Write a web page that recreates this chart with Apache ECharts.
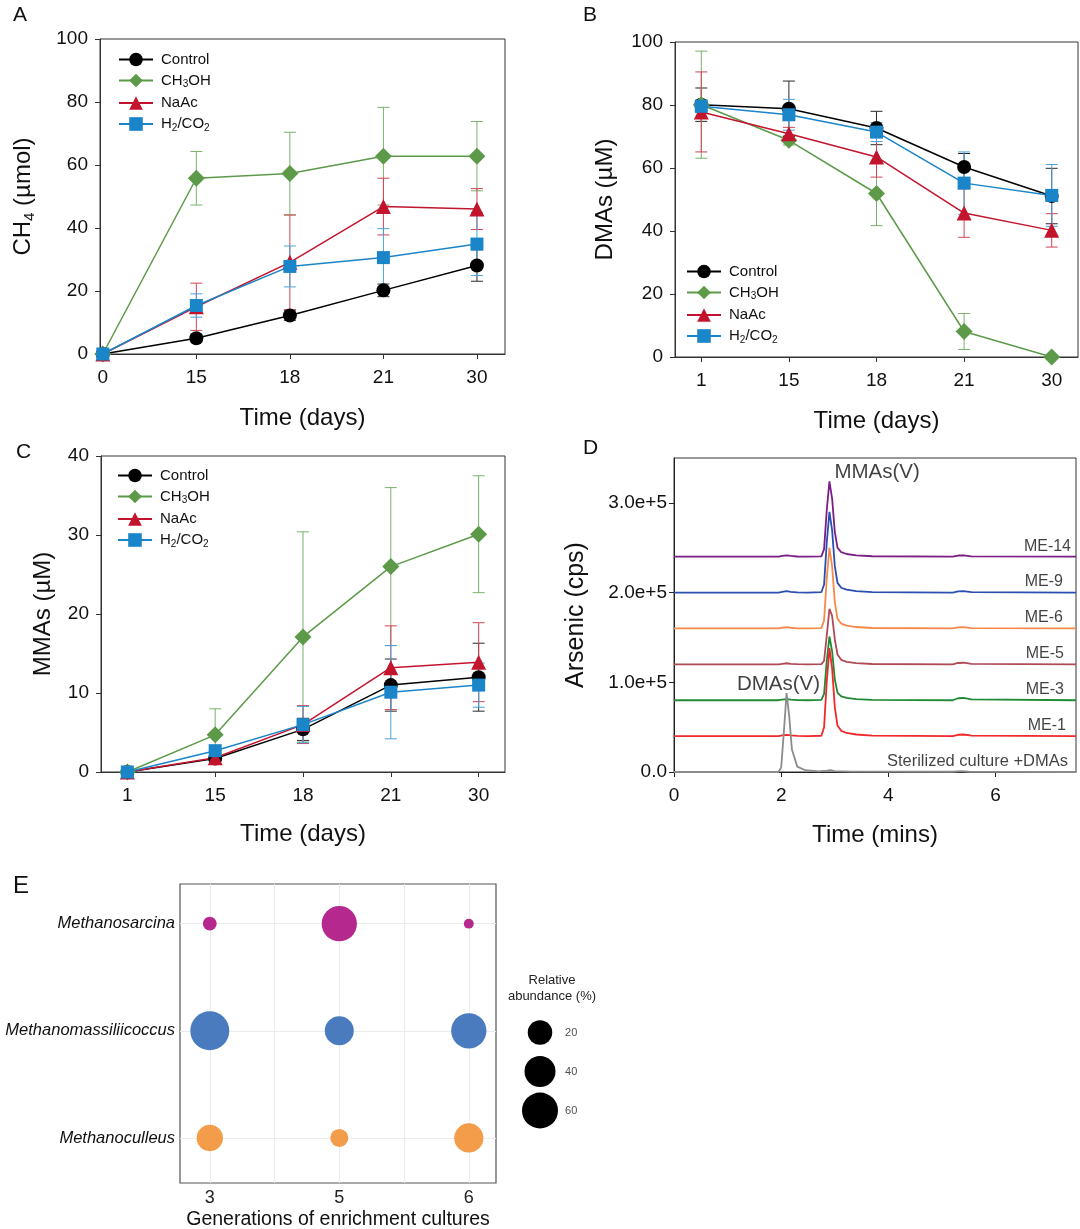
<!DOCTYPE html>
<html><head><meta charset="utf-8">
<script src="https://cdn.jsdelivr.net/npm/echarts@6/dist/echarts.min.js"></script>
<style>html,body{margin:0;padding:0;background:#fff}#c{width:1080px;height:1229px}</style>
</head><body><div id="c"></div>
<script>
const FONT = '"Liberation Sans", Arial, Helvetica, sans-serif';

// ---------- Panels A–C ----------
const treatNames = ['Control', 'CH3OH', 'NaAc', 'H2/CO2'];
const daysA = ['0', '15', '18', '21', '30'];
const daysBC = ['1', '15', '18', '21', '30'];

const ch4Control = [0, 5.0, 12.2, 20.2, 28.1];
const ch4ControlErr = [0.6, 1.2, 1.5, 2.0, 5.0];
const ch4Methanol = [0, 55.8, 57.3, 62.8, 62.8];
const ch4MethanolErr = [0.6, 8.5, 13.1, 15.5, 11.0];
const ch4NaAc = [0, 15.0, 29.1, 46.8, 46.0];
const ch4NaAcErr = [0.8, 7.5, 15.0, 9.0, 6.5];
const ch4H2 = [0, 15.4, 27.8, 30.6, 34.9];
const ch4H2Err = [0.6, 3.7, 6.5, 9.2, 10.0];

const dmaControl = [80.1, 78.8, 72.7, 60.3, 51.1];
const dmaControlErr = [5.3, 8.8, 5.3, 4.3, 8.8];
const dmaMethanol = [80.1, 68.8, 51.9, 8.1, 0];
const dmaMethanolErr = [17.0, 1.5, 10.2, 5.7, 0];
const dmaNaAc = [77.8, 70.9, 63.5, 45.7, 40.2];
const dmaNaAcErr = [12.7, 2.0, 6.4, 7.7, 5.3];
const dmaH2 = [79.6, 76.9, 71.4, 55.2, 51.3];
const dmaH2Err = [2.0, 4.9, 3.0, 9.9, 9.8];

const mmaControl = [0, 1.7, 5.4, 11.0, 12.0];
const mmaControlErr = [0.3, 0.4, 1.4, 3.3, 4.3];
const mmaMethanol = [0, 4.7, 17.1, 26.0, 30.1];
const mmaMethanolErr = [0.3, 3.3, 13.3, 10.0, 7.4];
const mmaNaAc = [0, 1.8, 6.0, 13.2, 13.9];
const mmaNaAcErr = [0.3, 0.4, 2.4, 5.3, 5.0];
const mmaH2 = [0, 2.7, 6.0, 10.1, 11.0];
const mmaH2Err = [0.3, 0.4, 2.3, 5.9, 2.8];

// ---------- Panel D (kcps) ----------
const chromTime = [0, 1.95, 2.02, 2.1, 2.18, 2.3, 2.5, 2.75, 2.8, 2.85, 2.9, 2.95, 3.0, 3.05, 3.12, 3.22, 3.4, 3.7, 5.2, 5.3, 5.4, 5.55, 7.5];
const me14 = [240, 240, 240.8, 241.5, 240.8, 240.2, 240, 240.3, 248.4, 292, 324, 304.7, 267.7, 250.1, 245, 243, 241.5, 240.5, 240, 241.3, 241.5, 240.4, 240];
const me9  = [200, 200, 200.8, 201.5, 200.8, 200.2, 200, 200.4, 209, 255.8, 290, 269.3, 229.7, 210.8, 205.4, 203.2, 201.6, 200.5, 200, 201.3, 201.5, 200.4, 200];
const me6  = [160, 160, 160.8, 161.5, 160.8, 160.2, 160, 160.4, 169, 215.8, 250, 229.3, 189.7, 170.8, 165.4, 163.2, 161.6, 160.5, 160, 161.3, 161.5, 160.4, 160];
const me5  = [120, 120, 120.6, 121.2, 120.6, 120.2, 120, 120.2, 124, 152, 182, 174, 148, 131, 125, 122.8, 121.3, 120.4, 120, 121.5, 121.8, 120.5, 120];
const me3  = [80, 80, 80.6, 81.2, 80.6, 80.2, 80, 80.3, 87.1, 124, 151, 134.7, 103.4, 88.5, 84.3, 82.6, 81.3, 80.4, 80, 82.2, 82.5, 81, 80];
const me1  = [40, 40, 40.8, 41.5, 40.8, 40.2, 40, 40.4, 49.8, 100.8, 138, 115.5, 72.3, 51.8, 45.9, 43.5, 41.8, 40.6, 40, 41.5, 41.8, 40.5, 40];
const sterileTime = [0, 1.95, 2.0, 2.05, 2.1, 2.15, 2.2, 2.3, 2.45, 2.7, 2.85, 2.92, 3.0, 3.3, 5.2, 5.35, 5.5, 7.5];
const sterile = [0, 0, 5, 45, 88, 62, 25, 6, 2, 0.8, 1.5, 2, 1, 0.5, 0.3, 1, 0.3, 0];
const traceNames = ['ME-14', 'ME-9', 'ME-6', 'ME-5', 'ME-3', 'ME-1', 'Sterilized culture +DMAs'];
const yTicksD = [0, 100, 200, 300];

// ---------- Panel E ----------
const generations = ['3', '5', '6'];
const genera = ['Methanoculleus', 'Methanomassiliicoccus', 'Methanosarcina'];
const culleusAbund = [25, 6.9, 34];
const massiliiAbund = [74, 33, 57];
const sarcinaAbund = [2, 57, 0.1];
const legendAbund = [20, 40, 60];

// ---------- styles ----------
const COL = { 'Control': '#000000', 'CH3OH': '#5c9a49', 'NaAc': '#c3142d', 'H2/CO2': '#1a85c8' };
const ERRCOL = { 'Control': '#2a2a2a', 'CH3OH': '#79b26a', 'NaAc': '#d04555', 'H2/CO2': '#4aa2dc' };
const SYM = { 'Control': ['circle', 14], 'CH3OH': ['diamond', 17], 'NaAc': ['triangle', 15], 'H2/CO2': ['rect', 13] };
const TRACECOL = ['#7a1e86', '#2a4fb0', '#f7894a', '#b04a55', '#1f8a35', '#f0282a', '#8c8c8c'];
const GENCOL = ['#f39c4a', '#4a7bbe', '#b5298f'];

function lineSeries(name, vals, gi) {
  return {
    type: 'line', name: name, xAxisIndex: gi, yAxisIndex: gi, z: 3,
    data: vals.map((v, i) => [i, v]),
    symbol: SYM[name][0], symbolSize: SYM[name][1],
    lineStyle: { color: COL[name], width: 1.5 },
    itemStyle: { color: COL[name] }
  };
}
function errSeries(name, vals, errs, gi) {
  const color = ERRCOL[name];
  return {
    type: 'custom', xAxisIndex: gi, yAxisIndex: gi, z: 1, silent: true,
    data: vals.map((v, i) => [i, v - errs[i], v + errs[i]]),
    encode: { x: 0, y: [1, 2] },
    renderItem: (params, api) => {
      const lo = api.coord([api.value(0), api.value(1)]);
      const hi = api.coord([api.value(0), api.value(2)]);
      const hw = 6, st = { stroke: color, lineWidth: 1 };
      return { type: 'group', children: [
        { type: 'line', shape: { x1: lo[0], y1: lo[1], x2: hi[0], y2: hi[1] }, style: st },
        { type: 'line', shape: { x1: hi[0] - hw, y1: hi[1], x2: hi[0] + hw, y2: hi[1] }, style: st },
        { type: 'line', shape: { x1: lo[0] - hw, y1: lo[1], x2: lo[0] + hw, y2: lo[1] }, style: st }
      ] };
    }
  };
}

const richMain = { fontSize: 15, lineHeight: 18, fontFamily: FONT, color: '#111' };
const richSub = { fontSize: 10, lineHeight: 10, verticalAlign: 'bottom', fontFamily: FONT, color: '#111' };
function legendFmt(name) {
  if (name === 'CH3OH') return '{n|CH}{s|3}{n|OH}';
  if (name === 'H2/CO2') return '{n|H}{s|2}{n|/CO}{s|2}';
  return '{n|' + name + '}';
}
function makeLegend(left, top) {
  return {
    data: treatNames, left: left, top: top, orient: 'vertical',
    itemWidth: 34, itemHeight: 17, itemGap: 6, padding: 0,
    formatter: legendFmt, selectedMode: false,
    textStyle: { rich: { n: richMain, s: richSub }, padding: [0, 0, 0, 3] }
  };
}

const axisTxt = { fontSize: 19, color: '#111', fontFamily: FONT };
const nameTxt = { fontSize: 24, color: '#111', fontFamily: FONT };
function catXAxis(gi, min, max, labels, gap) {
  return {
    type: 'value', gridIndex: gi, min: min, max: max,
    axisLine: { show: true, onZero: false, lineStyle: { color: '#333', width: 1 } },
    axisTick: { show: true, length: 5, customValues: [0, 1, 2, 3, 4], lineStyle: { color: '#333' } },
    axisLabel: Object.assign({ customValues: [0, 1, 2, 3, 4], margin: 14, formatter: v => labels[Math.round(v)] }, axisTxt),
    splitLine: { show: false },
    name: 'Time (days)', nameLocation: 'middle', nameGap: gap, nameTextStyle: nameTxt
  };
}
function valYAxis(gi, max, interval, nameRich, gap, rich) {
  return {
    type: 'value', gridIndex: gi, min: 0, max: max, interval: interval,
    axisLine: { show: true, onZero: false, lineStyle: { color: '#333', width: 1 } },
    axisTick: { show: true, length: 5, lineStyle: { color: '#333' } },
    axisLabel: Object.assign({ margin: 12 }, axisTxt),
    splitLine: { show: false },
    name: nameRich, nameLocation: 'middle', nameGap: gap,
    nameTextStyle: Object.assign({ rich: rich }, nameTxt)
  };
}
const gridBase = { show: true, borderColor: '#333', borderWidth: 1, backgroundColor: 'transparent', containLabel: false, outerBoundsMode: 'none' };

const nameRich = {
  n: { fontSize: 24, fontFamily: FONT, color: '#111', lineHeight: 27 },
  s: { fontSize: 15, fontFamily: FONT, color: '#111', lineHeight: 16, verticalAlign: 'bottom' }
};

const series = [];
const panels = [
  { gi: 0, data: [ch4Control, ch4Methanol, ch4NaAc, ch4H2], err: [ch4ControlErr, ch4MethanolErr, ch4NaAcErr, ch4H2Err] },
  { gi: 1, data: [dmaControl, dmaMethanol, dmaNaAc, dmaH2], err: [dmaControlErr, dmaMethanolErr, dmaNaAcErr, dmaH2Err] },
  { gi: 2, data: [mmaControl, mmaMethanol, mmaNaAc, mmaH2], err: [mmaControlErr, mmaMethanolErr, mmaNaAcErr, mmaH2Err] }
];
panels.forEach(p => {
  treatNames.forEach((n, k) => series.push(errSeries(n, p.data[k], p.err[k], p.gi)));
  treatNames.forEach((n, k) => series.push(lineSeries(n, p.data[k], p.gi)));
});

// Panel D traces
const traces = [me14, me9, me6, me5, me3, me1];
traces.forEach((tr, k) => series.push({
  type: 'line', name: traceNames[k], xAxisIndex: 3, yAxisIndex: 3, showSymbol: false, symbol: 'none',
  data: tr.map((v, i) => [chromTime[i], v]),
  lineStyle: { color: TRACECOL[k], width: 1.8 }, z: 3
}));
series.push({
  type: 'line', name: traceNames[6], xAxisIndex: 3, yAxisIndex: 3, showSymbol: false, symbol: 'none',
  data: sterile.map((v, i) => [sterileTime[i], v]),
  lineStyle: { color: TRACECOL[6], width: 1.8 }, z: 3
});
// trace labels
const allTraces = traces.concat([sterile]);
const labelOffsets = [-5, -13, -13, -12, -12, -10, -8];
series.push({
  type: 'scatter', xAxisIndex: 3, yAxisIndex: 3, symbolSize: 1, itemStyle: { color: 'transparent' }, silent: true, z: 5,
  data: allTraces.map((tr, k) => ({
    value: [7.5, tr[tr.length - 1], traceNames[k]],
    label: { show: true, position: 'top', align: 'right', distance: 2, offset: [labelOffsets[k], 0],
      formatter: p => p.value[2], fontSize: k === 6 ? 16.5 : 16, color: '#111', fontFamily: FONT }
  }))
});
// peak annotations
series.push({
  type: 'scatter', xAxisIndex: 3, yAxisIndex: 3, symbolSize: 1, itemStyle: { color: 'transparent' }, silent: true, z: 5,
  data: [[3.79, 333.7, 'MMAs(V)'], [1.95, 97.3, 'DMAs(V)']],
  label: { show: true, position: 'inside', formatter: p => p.value[2], fontSize: 20.5, color: '#111', fontFamily: FONT }
});

// Panel E
const bw = v => 8.8 + 3.51 * Math.sqrt(v);
const bsize = val => bw(val[2]);
[culleusAbund, massiliiAbund, sarcinaAbund].forEach((arr, gk) => series.push({
  type: 'scatter', name: genera[gk], xAxisIndex: 4, yAxisIndex: 4, z: 3,
  data: arr.map((v, i) => [i, gk, v]),
  symbol: 'circle', symbolSize: bsize, itemStyle: { color: GENCOL[gk], opacity: 1 }
}));
series.push({
  type: 'scatter', xAxisIndex: 5, yAxisIndex: 5, z: 3,
  data: legendAbund.map(v => [0.5, String(v), v]),
  symbol: 'circle', symbolSize: bsize, itemStyle: { color: '#000', opacity: 1 }
});
series.push({
  type: 'scatter', xAxisIndex: 5, yAxisIndex: 5, z: 3, symbolSize: 1, itemStyle: { color: 'transparent' },
  data: legendAbund.map(v => [0.91, String(v)]),
  label: { show: true, position: 'right', distance: 0, formatter: p => p.value[1], fontSize: 11, color: '#222', fontFamily: FONT }
});

const option = {
  animation: false,
  backgroundColor: '#fff',
  textStyle: { fontFamily: FONT },
  grid: [
    Object.assign({ left: 100, top: 39, width: 405, height: 315 }, gridBase),
    Object.assign({ left: 675, top: 42, width: 403, height: 315 }, gridBase),
    Object.assign({ left: 101, top: 456, width: 404, height: 316 }, gridBase),
    Object.assign({ left: 674, top: 458, width: 402, height: 314 }, gridBase),
    Object.assign({}, gridBase, { left: 180, top: 884, width: 316, height: 299, borderColor: '#555', borderWidth: 1.2 }),
    { left: 510, top: 1013, width: 60, height: 117, show: false, containLabel: false, outerBoundsMode: 'none' }
  ],
  legend: [makeLegend(118, 52), makeLegend(686, 264), makeLegend(117, 468)],
  xAxis: [
    catXAxis(0, -0.03, 4.3, daysA, 52),
    catXAxis(1, -0.3, 4.3, daysBC, 52),
    catXAxis(2, -0.3, 4.3, daysBC, 50),
    {
      type: 'value', gridIndex: 3, min: 0, max: 7.5,
      axisLine: { show: true, onZero: false, lineStyle: { color: '#222' } },
      axisTick: { show: true, length: 5, customValues: [0, 2, 4, 6], lineStyle: { color: '#222' } },
      axisLabel: Object.assign({ customValues: [0, 2, 4, 6], margin: 14 }, axisTxt),
      splitLine: { show: false },
      name: 'Time (mins)', nameLocation: 'middle', nameGap: 51, nameTextStyle: nameTxt
    },
    {
      type: 'value', gridIndex: 4, min: -0.23, max: 2.21,
      axisLine: { show: false },
      axisTick: { show: false, customValues: [0, 0.5, 1, 1.5, 2] },
      axisLabel: { customValues: [0, 1, 2], formatter: v => generations[Math.round(v)], fontSize: 18, color: '#222', margin: 6, fontFamily: FONT },
      splitLine: { show: true, lineStyle: { color: '#ebebeb', width: 1 } },
      name: 'Generations of enrichment cultures', nameLocation: 'middle', nameGap: 27,
      nameTextStyle: { fontSize: 19.5, color: '#111', fontFamily: FONT }
    },
    { type: 'value', gridIndex: 5, min: 0, max: 1, show: false }
  ],
  yAxis: [
    valYAxis(0, 100, 20, '{n|CH}{s|4}{n| (µmol)}', 63, nameRich),
    valYAxis(1, 100, 20, 'DMAs (µM)', 58, nameRich),
    valYAxis(2, 40, 10, 'MMAs (µM)', 46, nameRich),
    {
      type: 'value', gridIndex: 3, min: 0, max: 350,
      axisLine: { show: true, onZero: false, lineStyle: { color: '#222' } },
      axisTick: { show: true, length: 5, customValues: yTicksD, lineStyle: { color: '#222' } },
      axisLabel: Object.assign({ customValues: yTicksD, margin: 7,
        formatter: v => v === 0 ? '0.0' : (v / 100).toFixed(1) + 'e+5' }, axisTxt),
      splitLine: { show: false },
      name: 'Arsenic (cps)', nameLocation: 'middle', nameGap: 85,
      nameTextStyle: { fontSize: 25, color: '#111', fontFamily: FONT }
    },
    {
      type: 'value', gridIndex: 4, min: -0.42, max: 2.37,
      axisLine: { show: false },
      axisTick: { show: true, length: 3, customValues: [0, 1, 2], lineStyle: { color: '#444' } },
      axisLabel: { customValues: [0, 1, 2], formatter: v => genera[Math.round(v)], fontSize: 16.5, fontStyle: 'italic', color: '#111', margin: 5, fontFamily: FONT },
      splitLine: { show: true, lineStyle: { color: '#ebebeb', width: 1 } }
    },
    { type: 'category', gridIndex: 5, data: legendAbund.map(String), inverse: true, show: false }
  ],
  graphic: [
    { type: 'text', x: 13, y: 5, style: { text: 'A', font: '21px ' + FONT, fill: '#111' } },
    { type: 'text', x: 583, y: 5, style: { text: 'B', font: '21px ' + FONT, fill: '#111' } },
    { type: 'text', x: 16, y: 442, style: { text: 'C', font: '21px ' + FONT, fill: '#111' } },
    { type: 'text', x: 583, y: 438, style: { text: 'D', font: '21px ' + FONT, fill: '#111' } },
    { type: 'text', x: 13, y: 874, style: { text: 'E', font: '24px ' + FONT, fill: '#111' } },
    { type: 'text', x: 552, y: 972, style: { text: 'Relative\nabundance (%)', font: '13px ' + FONT, fill: '#222', align: 'center', verticalAlign: 'top', lineHeight: 16 } }
  ],
  series: series
};
const chart = echarts.init(document.getElementById('c'), null, { renderer: 'canvas' });
chart.setOption(option);
</script>
</body></html>
